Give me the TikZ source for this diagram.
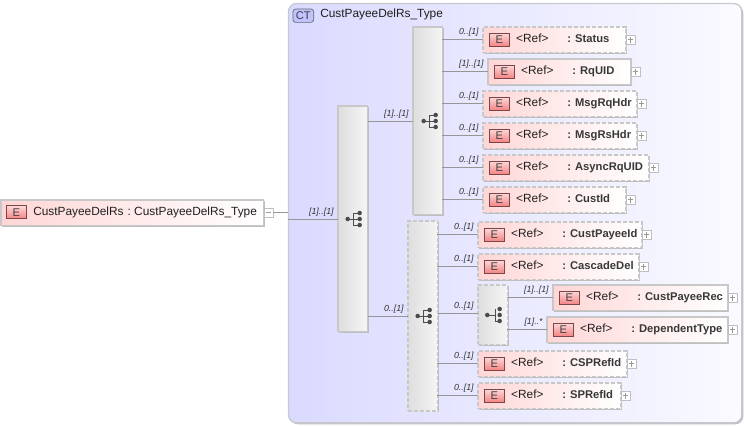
\documentclass[tikz,border=0pt]{standalone}
\usepackage{fontspec}
\setmainfont{Liberation Sans}
\usetikzlibrary{shadows,calc}

\definecolor{ctleft}{RGB}{218,218,255}
\definecolor{ctright}{RGB}{250,250,255}
\definecolor{ctline}{RGB}{200,200,208}
\definecolor{elleft}{RGB}{255,214,214}
\definecolor{elline}{RGB}{200,200,200}
\definecolor{wireline}{RGB}{150,150,150}
\definecolor{seqleft}{RGB}{222,222,222}
\definecolor{iconred}{RGB}{245,130,130}
\definecolor{iconline}{RGB}{125,70,70}

\tikzset{
  boxshadow/.style={drop shadow={shadow xshift=1.1pt,shadow yshift=-1.1pt,fill=black!25,opacity=1}},
  elem/.style={draw=elline,line width=0.8pt,anchor=north west,inner sep=0pt,outer sep=0pt,
    left color=elleft,right color=white,boxshadow,minimum height=19pt},
  elemopt/.style={elem,dash pattern=on 3pt off 1.5pt},
  seqbox/.style={draw=elline,line width=0.8pt,anchor=north west,inner sep=0pt,outer sep=0pt,
    left color=seqleft,right color=white!96!black,boxshadow,minimum width=22pt},
  seqopt/.style={seqbox,dash pattern=on 3pt off 1.5pt},
  eicon/.style={draw=iconline,line width=0.6pt,minimum width=15.5pt,minimum height=10pt,inner sep=0pt,outer sep=0pt,
    anchor=north west,top color=white!70!iconred,bottom color=iconred,font=\fontsize{8.4}{8.4}\selectfont,text=black!75},
  elemtext/.style={anchor=base west,inner sep=0pt,font=\fontsize{8.9}{8.9}\selectfont,text=black!88},
  elemname/.style={anchor=base west,inner sep=0pt,font=\fontsize{8.4}{8.4}\selectfont\bfseries,text=black!78},
  expbox/.style={draw=black!25,fill=white,line width=0.6pt,minimum size=6.8pt,inner sep=0pt,outer sep=0pt,anchor=west},
  expmark/.style={draw=black!40,line width=0.4pt},
  wire/.style={draw=wireline,line width=0.6pt},
  mult/.style={inner sep=0pt,font=\fontsize{6.6}{6.6}\selectfont\itshape,text=black!80,
    pos=1,anchor=south east,xshift=-3pt,yshift=2pt},
  seqicon/.pic={
    \fill[black!70] (-4pt,0) circle (1.7pt);
    \draw[black!70,line width=0.6pt] (-4pt,0) -- (5pt,0)
      (0,4.5pt) -- (0,-4.5pt) (0,4.5pt) -- (5pt,4.5pt) (0,-4.5pt) -- (5pt,-4.5pt);
    \foreach \dy in {-4.5,0,4.5}
      \fill[black!70] (5pt,\dy pt) circle (1.7pt);
  },
  choiceicon/.pic={
    \fill[black!70] (-4.3pt,0) circle (1.7pt);
    \draw[black!70,line width=0.6pt] (-4.3pt,0) -- (1.5pt,0) (1.5pt,4.5pt) -- (1.5pt,-4.5pt) -- (5pt,-4.5pt);
    \foreach \dy in {-4.5,0,4.5}
      \fill[black!70] (5pt,\dy pt) circle (1.7pt);
  },
}

% one element box: name, style, x, y, width, label
\newcommand{\refelem}[6]{
  \node[#2,minimum width=#5*0.75pt] (#1) at (#3,#4) {};
  \node[eicon] (#1e) at ($(#1.north west)+(4.5pt,-4.5pt)$) {E};
  \node[elemtext] (#1r) at ($(#1.north west)+(24.7pt,-11.5pt)$) {<Ref>};
  \node[elemname] (#1n) at ($(#1.north west)+(63pt,-11.5pt)$) {: #6};
  \node[expbox] (#1x) at (#1.east) {};
  \draw[expmark] ($(#1x.center)+(-2.2pt,0)$) -- ($(#1x.center)+(2.2pt,0)$)
    ($(#1x.center)+(0,-2.2pt)$) -- ($(#1x.center)+(0,2.2pt)$);
}

\begin{document}
\begin{tikzpicture}[x=0.75pt,y=-0.75pt]
  \useasboundingbox (0,0) rectangle (746,426);

  % Complex type frame
  \node[draw=ctline,line width=1pt,rounded corners=6pt,anchor=north west,inner sep=0pt,outer sep=0pt,
    left color=ctleft,right color=ctright,minimum width=340pt,minimum height=314.5pt,boxshadow] (ctbox) at (288.5,3.5) {};
  \node[draw=black!60,rounded corners=2pt,line width=0.5pt,fill=ctleft!70!blue!60,anchor=north west,inner sep=0pt,outer sep=0pt,
    minimum width=15.5pt,minimum height=10pt,font=\fontsize{8.4}{8.4}\selectfont,text=black!75] (cticon) at (293,9) {CT};
  \node[elemtext,anchor=base west] (cttitle) at (320,17) {CustPayeeDelRs\_Type};

  % Root element
  \node[elem,minimum width=197pt] (root) at (1,200) {};
  \node[eicon] (roote) at (6,205.5) {E};
  \node[elemtext] (roott) at (33,215) {CustPayeeDelRs\hspace{3pt}:\hspace{2.5pt}CustPayeeDelRs\_Type};
  \node[expbox] (rootx) at (264,212.5) {};
  \draw[expmark] ($(rootx.center)+(-2.2pt,0)$) -- ($(rootx.center)+(2.2pt,0)$);

  % Sequence boxes
  \node[seqbox,minimum height=169pt] (seqa) at (338,106) {};
  \node[seqbox,minimum height=140.5pt] (seqb) at (413,27) {};
  \node[seqopt,minimum height=142.5pt] (seqc) at (408,221) {};
  \node[seqopt,minimum height=44.5pt] (seqd) at (478,285) {};
  \pic at (353,219) {seqicon};
  \pic at (429,121) {seqicon};
  \pic at (423,316) {seqicon};
  \pic at (493,315) {choiceicon};

  % Elements of the upper sequence
  \refelem{status}{elemopt}{483}{27}{143}{Status}
  \refelem{rquid}{elem}{488}{59}{143}{RqUID}
  \refelem{msgrq}{elemopt}{483}{91}{154}{MsgRqHdr}
  \refelem{msgrs}{elemopt}{483}{123}{154}{MsgRsHdr}
  \refelem{async}{elemopt}{483}{155}{166}{AsyncRqUID}
  \refelem{custid}{elemopt}{483}{187}{143}{CustId}

  % Elements of the lower sequence
  \refelem{payeeid}{elemopt}{478}{222}{164}{CustPayeeId}
  \refelem{cascade}{elemopt}{478}{254}{161}{CascadeDel}
  \refelem{payeerec}{elem}{553}{285}{175}{CustPayeeRec}
  \refelem{deptype}{elem}{547}{317}{181}{DependentType}
  \refelem{csp}{elemopt}{478}{351}{149}{CSPRefId}
  \refelem{sp}{elemopt}{478}{383}{143}{SPRefId}

  % Connectors
  \coordinate (ctin) at (288,212.5);
  \coordinate (ctout) at (288,219);
  \draw[wire] (rootx.east) -- (ctin);
  \draw[wire] (ctout) -- (ctout -| seqa.west) node[mult] (mroot) {[1]..[1]};
  \coordinate (ab) at (368,121);
  \coordinate (ac) at (368,316);
  \coordinate (cd) at (438,313);
  \draw[wire] (ab) -- (ab -| seqb.west) node[mult] (mab) {[1]..[1]};
  \draw[wire] (ac) -- (ac -| seqc.west) node[mult] (mac) {0..[1]};
  \draw[wire] (cd) -- (cd -| seqd.west) node[mult] (mcd) {0..[1]};

  \foreach \el/\lab in {status/0..[1],rquid/[1]..[1],msgrq/0..[1],msgrs/0..[1],async/0..[1],custid/0..[1]}
    \draw[wire] (\el.west -| seqb.east) -- (\el.west) node[mult] (m\el) {\lab};
  \foreach \el/\lab in {payeeid/0..[1],cascade/0..[1],csp/0..[1],sp/0..[1]}
    \draw[wire] (\el.west -| seqc.east) -- (\el.west) node[mult] (m\el) {\lab};
  \foreach \el/\lab in {payeerec/[1]..[1],deptype/[1]..*}
    \draw[wire] (\el.west -| seqd.east) -- (\el.west) node[mult] (m\el) {\lab};
\end{tikzpicture}
\end{document}
